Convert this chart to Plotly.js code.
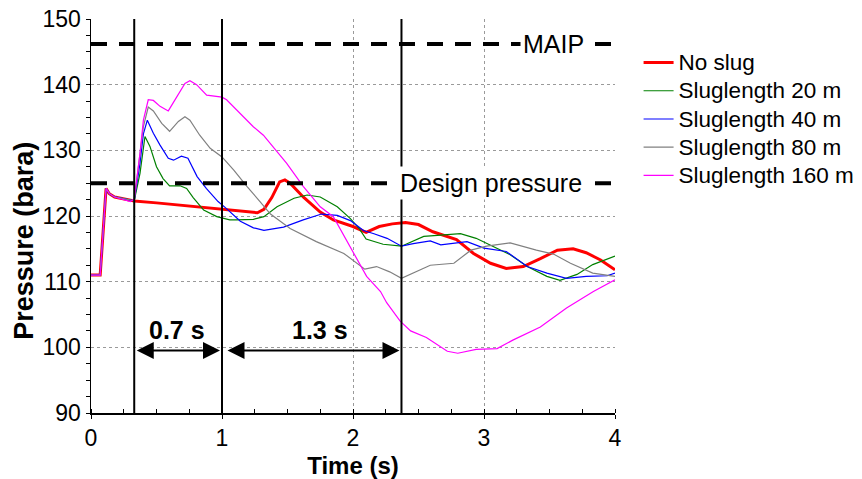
<!DOCTYPE html>
<html>
<head>
<meta charset="utf-8">
<script src="https://cdn.plot.ly/plotly-3.0.1.min.js"></script>
<style>
  html, body { margin: 0; padding: 0; background: #ffffff; }
  #chart { width: 862px; height: 479px; }
</style>
</head>
<body>
<div id="chart"></div>
<script>
// ---------------- data ----------------
const seriesNames = ['No slug', 'Sluglength 20 m', 'Sluglength 40 m', 'Sluglength 80 m', 'Sluglength 160 m'];

const timeNoSlug = [0, 0.07, 0.115, 0.14, 0.18, 0.25, 0.33, 0.5, 0.75, 1.0, 1.14, 1.27, 1.32, 1.38, 1.44, 1.48, 1.52, 1.62, 1.75, 1.85, 2.0, 2.1, 2.2, 2.3, 2.4, 2.5, 2.61, 2.79, 2.92, 3.05, 3.17, 3.3, 3.43, 3.56, 3.68, 3.78, 3.89, 4.0];
const pressureNoSlug = [111, 111, 124.2, 123.4, 122.9, 122.6, 122.3, 122.0, 121.5, 121.0, 120.7, 120.5, 121.0, 122.8, 125.2, 125.5, 125.0, 122.9, 120.6, 119.4, 118.4, 117.5, 118.4, 118.8, 119.0, 118.7, 117.6, 116.4, 114.3, 112.8, 112.0, 112.3, 113.5, 114.8, 115.0, 114.4, 113.3, 111.8];

const timeSlug20 = [0, 0.07, 0.115, 0.14, 0.18, 0.25, 0.33, 0.374, 0.412, 0.45, 0.50, 0.55, 0.60, 0.68, 0.73, 0.78, 0.86, 0.96, 1.06, 1.11, 1.24, 1.32, 1.42, 1.55, 1.65, 1.75, 1.88, 1.98, 2.05, 2.1, 2.23, 2.37, 2.44, 2.54, 2.67, 2.82, 2.94, 3.07, 3.2, 3.33, 3.48, 3.58, 3.71, 3.83, 4.0];
const pressureSlug20 = [111, 111, 124.2, 123.4, 122.9, 122.6, 122.3, 126.5, 132.1, 130.6, 127.5, 125.7, 124.6, 124.6, 124.2, 122.8, 120.9, 119.9, 119.4, 119.4, 119.5, 119.9, 121.4, 122.7, 123.2, 122.9, 121.4, 119.6, 118.0, 116.5, 115.7, 115.4, 116.0, 116.9, 117.1, 117.3, 116.6, 115.3, 114.1, 112.3, 110.8, 110.2, 111.1, 112.6, 113.9];

const timeSlug40 = [0, 0.07, 0.115, 0.14, 0.18, 0.25, 0.33, 0.374, 0.40, 0.43, 0.476, 0.527, 0.59, 0.63, 0.69, 0.74, 0.81, 0.88, 0.97, 1.03, 1.11, 1.14, 1.24, 1.32, 1.47, 1.62, 1.76, 1.88, 1.98, 2.08, 2.16, 2.26, 2.37, 2.46, 2.59, 2.67, 2.87, 3.0, 3.17, 3.33, 3.48, 3.63, 3.78, 3.94, 4.0];
const pressureSlug40 = [111, 111, 124.2, 123.4, 122.9, 122.6, 122.3, 128.0, 132.5, 134.6, 132.6, 130.8, 128.8, 128.5, 129.1, 128.8, 126.0, 124.2, 122.2, 121.2, 119.7, 119.2, 118.2, 117.8, 118.3, 119.4, 120.3, 120.1, 119.3, 117.8, 117.3, 116.6, 115.4, 115.8, 116.2, 115.6, 116.1, 115.1, 114.6, 112.3, 111.3, 110.5, 110.8, 110.9, 111.3];

const timeSlug80 = [0, 0.07, 0.115, 0.14, 0.18, 0.25, 0.33, 0.374, 0.40, 0.437, 0.476, 0.54, 0.60, 0.667, 0.717, 0.755, 0.83, 0.91, 1.0, 1.09, 1.19, 1.29, 1.37, 1.52, 1.72, 1.93, 2.05, 2.09, 2.18, 2.28, 2.37, 2.46, 2.59, 2.77, 2.9, 3.02, 3.2, 3.4, 3.53, 3.66, 3.83, 4.0];
const pressureSlug80 = [111, 111, 124.2, 123.4, 122.9, 122.6, 122.3, 129.5, 133.6, 136.6, 136.0, 134.1, 132.9, 134.4, 135.1, 134.6, 132.3, 130.3, 129.0, 127.0, 124.5, 122.2, 120.3, 118.1, 116.1, 114.3, 112.5, 111.9, 112.3, 111.5, 110.5, 111.3, 112.5, 112.8, 114.8, 115.4, 115.9, 114.8, 114.2, 112.8, 111.3, 110.8];

const timeSlug160 = [0, 0.07, 0.115, 0.14, 0.18, 0.25, 0.30, 0.33, 0.374, 0.40, 0.437, 0.476, 0.527, 0.59, 0.654, 0.717, 0.755, 0.806, 0.883, 1.0, 1.035, 1.137, 1.239, 1.316, 1.39, 1.494, 1.62, 1.75, 1.85, 1.977, 2.104, 2.21, 2.257, 2.36, 2.44, 2.56, 2.72, 2.8, 2.94, 3.1, 3.22, 3.43, 3.63, 3.835, 4.0];
const pressureSlug160 = [111, 111, 124.2, 123.4, 122.9, 122.5, 122.2, 122.6, 129.5, 134.6, 137.7, 137.6, 136.7, 136.0, 138.2, 140.2, 140.6, 140.0, 138.4, 138.1, 137.7, 135.6, 133.6, 132.3, 130.5, 128.0, 124.5, 121.4, 119.9, 115.3, 110.8, 108.5, 106.8, 104.0, 102.5, 101.5, 99.4, 99.1, 99.7, 99.8, 101.1, 103.1, 106.0, 108.5, 110.3];

// reference levels and event markers
const limitNames = ['MAIP', 'Design pressure'];
const limitValues = [146.2, 125];
const eventTimes = [0.33, 1.0, 2.37];
const intervalStarts = [0.33, 1.0];
const intervalEnds = [1.0, 2.37];
const intervalLabels = ['0.7 s', '1.3 s'];
const intervalArrowLevel = 99.5;

// ---------------- styling ----------------
const FONT = '"Liberation Sans", Arial, Helvetica, sans-serif';
const seriesColors = ['#ff0000', '#008000', '#0000ff', '#808080', '#ff00ff'];
const seriesWidths = [3, 1.2, 1.2, 1.2, 1.2];
const times = [timeNoSlug, timeSlug20, timeSlug40, timeSlug80, timeSlug160];
const pressures = [pressureNoSlug, pressureSlug20, pressureSlug40, pressureSlug80, pressureSlug160];

const traces = seriesNames.map((name, i) => ({
  type: 'scatter',
  mode: 'lines',
  name: '<span style="font-size:22.5px">' + name + '</span>',
  x: times[i],
  y: pressures[i],
  line: { color: seriesColors[i], width: seriesWidths[i], shape: 'linear' },
  hoverinfo: 'skip'
}));

const xRange = [0, 4];
const yRange = [90, 150];

const shapes = [];
eventTimes.forEach(t => shapes.push({
  type: 'line', xref: 'x', yref: 'y', x0: t, x1: t, y0: yRange[0], y1: yRange[1],
  line: { color: '#000', width: 2 }, layer: 'above'
}));
limitValues.forEach(v => shapes.push({
  type: 'line', xref: 'x', yref: 'y', x0: xRange[0], x1: xRange[1], y0: v, y1: v,
  line: { color: '#000', width: 4, dash: '16px,12px' }, layer: 'above'
}));

const annotations = [];
// limit labels (white box interrupts the dashed line)
const limitLabelX = [3.53, 3.05];
limitNames.forEach((name, i) => annotations.push({
  xref: 'x', yref: 'y', x: limitLabelX[i], y: limitValues[i],
  text: name, showarrow: false, bgcolor: '#ffffff', borderpad: 2,
  font: { family: FONT, size: 25, color: '#000' }
}));
// interval arrows
intervalStarts.forEach((s, i) => annotations.push({
  xref: 'x', yref: 'y', axref: 'x', ayref: 'y',
  x: intervalEnds[i], y: intervalArrowLevel, ax: s, ay: intervalArrowLevel,
  text: '', showarrow: true, arrowside: 'end+start',
  arrowhead: 2, startarrowhead: 2, arrowsize: 1.7, startarrowsize: 1.7,
  arrowwidth: 2, arrowcolor: '#000', standoff: 2, startstandoff: i === 0 ? 1 : 4
}));
// interval labels
const intervalLabelX = [0.66, 1.75];
intervalLabels.forEach((lab, i) => annotations.push({
  xref: 'x', yref: 'y', x: intervalLabelX[i], y: 102.6,
  text: lab, showarrow: false,
  font: { family: FONT, size: 25, color: '#000', weight: 'bold' }
}));
// y-axis title
annotations.push({
  xref: 'paper', yref: 'paper', x: -0.128, y: 0.437, xanchor: 'center', yanchor: 'middle',
  text: 'Pressure (bara)', textangle: -90, showarrow: false,
  font: { family: FONT, size: 27, color: '#000', weight: 'bold' }
});

const axisCommon = {
  showline: true, linecolor: '#000', linewidth: 1.5,
  ticks: 'outside', ticklen: 4, tickcolor: '#000', tickwidth: 1,
  showgrid: true, gridcolor: '#9a9a9a', griddash: 'dot', gridwidth: 1,
  zeroline: false, fixedrange: true, automargin: false,
  tickfont: { family: FONT, size: 23, color: '#000' }
};

const layout = {
  width: 862, height: 479,
  margin: { l: 91, r: 247, t: 19, b: 66, pad: 0, autoexpand: false },
  paper_bgcolor: '#ffffff', plot_bgcolor: '#ffffff',
  font: { family: FONT, color: '#000', size: 22 },
  showlegend: true,
  legend: {
    x: 1.045, xanchor: 'left', y: 0.938, yanchor: 'top',
    font: { family: FONT, size: 19.4, color: '#000' },
    bgcolor: 'rgba(0,0,0,0)', borderwidth: 0, tracegroupgap: 0
  },
  xaxis: Object.assign({}, axisCommon, {
    range: xRange, tick0: 0, dtick: 1,
    minor: { dtick: 0.25, ticks: 'inside', ticklen: 4, tickcolor: '#000', showgrid: false },
    title: { text: 'Time (s)', standoff: 8, font: { family: FONT, size: 24, color: '#000', weight: 'bold' } }
  }),
  yaxis: Object.assign({}, axisCommon, {
    range: yRange, tick0: 90, dtick: 10,
    minor: { dtick: 2.5, ticks: 'outside', ticklen: 4, tickcolor: '#000', showgrid: false }
  }),
  shapes: shapes,
  annotations: annotations
};

Plotly.newPlot('chart', traces, layout, { staticPlot: true, displayModeBar: false });
</script>
</body>
</html>
